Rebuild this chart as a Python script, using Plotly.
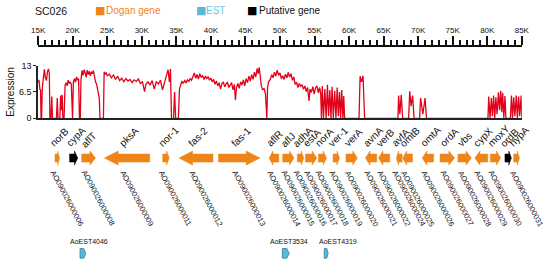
import plotly.graph_objects as go

W, H = 559, 268

# ---------------- data ----------------
scaffold = "SC026"
ruler_ticks = list(range(15, 86, 5))
ruler_labels = [f"{t}K" for t in ruler_ticks]

expr_kb = [15.0, 15.12, 15.25, 15.35, 15.42, 15.5, 15.6, 15.75, 15.9, 16.05, 16.2, 16.35, 16.5, 16.62, 16.7,
           16.85, 16.97, 17.08, 17.65, 17.77, 17.88, 18.15, 18.25, 18.35, 18.48, 18.58, 18.75,
           18.9, 19.05, 19.2, 19.35, 19.5, 19.65, 19.8, 19.88, 19.98,
           20.1, 20.25, 20.4, 20.55, 20.7, 20.85, 20.98, 21.1,
           21.2, 21.35, 21.5, 21.65, 21.8, 21.95, 22.1, 22.25, 22.4, 22.55, 22.7, 22.85, 23.0, 23.15, 23.3,
           23.45, 23.6, 23.75, 23.85, 23.95, 24.2, 24.45,
           24.55, 24.7, 24.85, 25.0, 25.3, 25.6, 25.9, 26.2, 26.5, 26.8, 27.1, 27.4, 27.7, 28.0, 28.3, 28.6,
           28.9, 29.2, 29.5, 29.8, 30.1, 30.4, 30.6, 30.9, 31.2, 31.5, 31.8, 32.1, 32.4, 32.7, 33.0, 33.3,
           33.6, 33.8, 34.0, 34.15, 34.3, 34.35, 34.6, 34.75, 34.9, 35.3,
           35.45, 35.6, 35.8, 36.0, 36.2, 36.4, 36.6, 36.8, 37.0, 37.2, 37.4, 37.6, 37.8, 38.0, 38.2, 38.4,
           38.6, 38.8, 39.0, 39.2, 39.4, 39.6, 39.8, 40.0, 40.2, 40.4, 40.6, 40.8, 41.0, 41.2, 41.4, 41.6,
           41.8, 42.0, 42.2, 42.4, 42.6, 42.8, 43.0, 43.2, 43.4, 43.55, 43.7, 43.9, 44.1, 44.3, 44.5, 44.7,
           44.9, 45.1, 45.3, 45.5, 45.7, 45.9, 46.1, 46.3, 46.5, 46.7, 46.85, 47.0, 47.15, 47.3, 47.5, 47.7,
           47.9, 48.0, 48.1, 48.2, 48.35, 48.6, 48.8, 49.0, 49.2, 49.4, 49.6, 49.8, 50.0, 50.2, 50.4, 50.6,
           50.8, 51.0, 51.2, 51.4, 51.6, 51.8, 52.0, 52.2, 52.4, 52.6, 52.8, 53.0, 53.2, 53.4, 53.6, 53.8,
           54.0, 54.2, 54.35, 54.55, 54.75, 54.95, 55.15, 55.35, 55.55, 55.75, 55.9, 56.0,
           56.13, 56.3, 56.5, 56.68, 56.87, 57.03, 57.21, 57.38, 57.54, 57.72, 57.92, 58.1, 58.28, 58.45,
           58.62, 58.78, 58.94, 59.1, 59.23, 59.35,
           61.44, 61.6, 61.8, 62.02, 62.25,
           67.07, 67.17, 67.35, 67.55, 67.75,
           68.62, 68.78, 68.98, 69.2, 69.41,
           70.21, 70.35, 70.68, 71.0, 71.2,
           80.1, 80.21, 80.4, 80.59, 80.75, 80.92, 81.08, 81.25, 81.42, 81.62, 81.78, 81.95, 82.1, 82.23,
           82.4, 82.56, 82.7, 83.35, 83.5, 83.66, 83.83, 84.0, 84.2, 84.36, 84.54, 84.7, 84.9, 85.0]
expr_val = [8.8, 9.5, 7.2, 7.0, 0, 0, 7.5, 10.5, 12.1, 10.0, 9.3, 11.5, 12.2, 11.0, 0,
            0, 5.4, 0, 0, 5.0, 0, 0, 5.6, 2.0, 5.8, 0, 0,
            8.2, 8.8, 8.0, 9.4, 8.6, 9.0, 8.3, 0, 0,
            9.0, 9.8, 8.9, 10.2, 9.4, 9.8, 0, 0,
            9.5, 11.8, 10.6, 12.0, 11.2, 10.1, 11.9, 10.8, 11.6, 10.5, 11.5, 11.0, 11.8, 10.2, 9.0,
            8.5, 7.0, 6.5, 5.0, 0, 0, 0,
            11.5, 10.8, 11.3, 10.5, 10.9, 10.0, 10.7, 9.6, 10.4, 9.3, 9.9, 9.0, 9.8, 9.2, 9.6, 8.8,
            9.5, 9.1, 9.7, 8.6, 9.0, 6.6, 8.4, 9.0, 8.2, 9.3, 7.2, 9.0, 8.5, 9.4, 7.0, 9.1,
            10.5, 12.0, 9.0, 12.2, 0, 0, 0, 6.5, 0, 0,
            7.2, 8.0, 9.2, 8.6, 9.3, 8.8, 9.5, 9.0, 9.8, 9.4, 10.2, 11.2, 9.9, 10.8, 9.7, 11.0,
            10.1, 10.6, 9.6, 10.4, 9.8, 10.3, 9.4, 9.9, 9.0, 9.6, 8.4, 9.2, 8.0, 8.8, 7.2, 8.6,
            9.0, 7.8, 8.5, 8.9, 7.6, 8.3, 8.8, 7.0, 8.4, 4.5, 7.5, 8.6, 7.4, 9.0, 8.2, 9.5,
            8.0, 9.8, 8.8, 10.4, 9.2, 10.8, 9.6, 11.4, 10.2, 12.3, 11.0, 12.6, 10.8, 8.0, 7.0, 7.4,
            6.0, 0, 0, 7.5, 9.0, 9.6, 10.8, 10.0, 11.4, 10.4, 11.9, 10.6, 11.2, 9.8, 10.5, 9.6,
            10.9, 10.0, 11.3, 10.2, 11.0, 9.4, 10.2, 8.4, 8.9, 7.6, 8.6, 7.9, 8.3, 7.2, 8.0, 6.6,
            7.6, 4.3, 7.2, 6.4, 7.8, 6.0, 7.5, 8.0, 6.3, 7.6, 6.0, 0,
            8.0, 0, 7.2, 0, 8.3, 0.5, 7.0, 0, 7.8, 0, 6.8, 0, 7.6, 0.5,
            6.5, 0, 7.0, 0, 5.5, 0,
            0, 10.4, 9.0, 10.5, 0,
            0, 5.6, 1.0, 5.8, 0,
            0, 6.7, 3.0, 5.6, 0,
            0, 5.0, 1.0, 5.0, 0,
            0, 5.4, 0, 5.0, 0.5, 5.6, 0, 5.2, 1.0, 6.4, 2.0, 6.8, 1.5, 6.3,
            0, 5.5, 0, 0, 5.6, 0, 5.2, 0.5, 5.6, 0, 5.4, 0.5, 5.6, 0]

gene_names = ["norB", "cypA", "aflT", "pksA", "nor-1", "fas-2", "fas-1", "aflR", "aflJ", "adhA",
              "estA", "norA", "ver-1", "verA", "avnA", "verB", "avfA", "omtB", "omtA", "ordA",
              "vbs", "cypX", "moxY", "ordB", "hypA"]
gene_start = [17.44, 19.55, 21.30, 24.58, 33.03, 35.38, 41.10, 48.42, 50.39, 52.51,
              53.69, 55.56, 57.68, 59.55, 62.37, 64.25, 66.83, 67.77, 70.59, 73.17,
              75.75, 78.20, 80.45, 82.56, 83.83]
gene_end = [18.10, 20.73, 23.31, 31.15, 33.97, 40.31, 47.11, 49.83, 52.04, 53.45,
            55.32, 56.73, 58.62, 61.20, 64.01, 65.89, 67.68, 69.18, 72.23, 75.28,
            77.72, 80.07, 81.94, 83.49, 84.68]
gene_strand = [1, 1, 1, -1, 1, -1, 1, -1, 1, 1,
               1, 1, 1, 1, -1, -1, -1, -1, -1, 1,
               1, -1, 1, 1, 1]
gene_kind = ["dogan", "putative", "dogan", "dogan", "dogan", "dogan", "dogan", "dogan", "dogan", "dogan",
             "dogan", "dogan", "dogan", "dogan", "dogan", "dogan", "dogan", "dogan", "dogan", "dogan",
             "dogan", "dogan", "dogan", "putative", "dogan"]
gene_locus = ["AO090026000006", "", "AO090026000008", "AO090026000009", "AO090026000011",
              "AO090026000012", "AO090026000013", "AO090026000014", "AO090026000015", "AO090026000016",
              "AO090026000017", "AO090026000018", "AO090026000019", "AO090026000020", "AO090026000021",
              "AO090026000022", "AO090026000024", "AO090026000025", "AO090026000026", "AO090026000027",
              "AO090026000028", "AO090026000029", "AO090026000030", "", "AO090026000031"]

est_names = ["AoEST4046", "AoEST3534", "AoEST4319"]
est_start = [21.06, 50.35, 56.41]
est_end = [21.90, 51.34, 56.97]
est_label_kb = [22.32, 51.34, 58.45]

legend_names = ["Dogan gene", "EST", "Putative gene"]

# ---------------- style ----------------
ORANGE = "#EF8519"
BLUE = "#5CB8D6"
BLACK = "#000000"
RED = "#E2001A"
FONT = "Arial, Liberation Sans, sans-serif"

X_DOM = [32 / W, 529 / W]


def py(p):
    """pixel row -> paper fraction"""
    return 1 - p / H


def arrow(s, e, strand, body=0.3, head=0.52, hmax=2.0, frac=0.4):
    ln = e - s
    h = min(hmax, frac * ln)
    if strand >= 0:
        xs = [s, e - h, e - h, e, e - h, e - h, s, s]
    else:
        xs = [e, s + h, s + h, s, s + h, s + h, e, e]
    ys = [-body, -body, -head, 0, head, body, body, -body]
    return xs, ys


fig = go.Figure()

# expression trace
fig.add_trace(go.Scatter(x=expr_kb, y=expr_val, mode="lines", xaxis="x", yaxis="y",
                         line=dict(color=RED, width=1.3), hoverinfo="skip"))

# ruler subplot holder (no visible marks)
fig.add_trace(go.Scatter(x=[ruler_ticks[0], ruler_ticks[-1]], y=[0.5, 0.5], mode="none",
                         xaxis="x2", yaxis="y2", hoverinfo="skip"))

# gene arrows
for kind, col in [("dogan", ORANGE), ("putative", BLACK)]:
    gx, gy = [], []
    for s, e, st, k in zip(gene_start, gene_end, gene_strand, gene_kind):
        if k != kind:
            continue
        ax, ay = arrow(s, e, st)
        gx += ax + [None]
        gy += ay + [None]
    fig.add_trace(go.Scatter(x=gx, y=gy, mode="lines", fill="toself", fillcolor=col,
                             line=dict(color=col, width=0.5), xaxis="x", yaxis="y3",
                             hoverinfo="skip"))

# EST marks
ex, ey = [], []
for s, e in zip(est_start, est_end):
    ax, ay = arrow(s, e, 1, body=0.5, head=0.5, hmax=0.4, frac=0.35)
    ex += ax + [None]
    ey += ay + [None]
fig.add_trace(go.Scatter(x=ex, y=ey, mode="lines", fill="toself", fillcolor=BLUE,
                         line=dict(color="#2E7F9E", width=0.8), xaxis="x", yaxis="y4",
                         hoverinfo="skip"))

ann = []
# gene labels (above)
for name, s, e in zip(gene_names, gene_start, gene_end):
    ann.append(dict(x=(s + e) / 2, y=py(151), xref="x", yref="paper", text=name,
                    showarrow=False, textangle=-45, xanchor="left", yanchor="bottom",
                    xshift=-11, font=dict(size=10, color="#111", family=FONT), borderpad=0))
# locus labels (below)
for loc, s, e in zip(gene_locus, gene_start, gene_end):
    if not loc:
        continue
    ann.append(dict(x=(s + e) / 2, y=py(169), xref="x", yref="paper", text=loc,
                    showarrow=False, textangle=62, xanchor="left", yanchor="top",
                    xshift=-10, font=dict(size=7.6, color="#111", family=FONT), borderpad=0))
# EST labels
for name, xk in zip(est_names, est_label_kb):
    ann.append(dict(x=xk, y=py(246), xref="x", yref="paper", text=name, showarrow=False,
                    xanchor="center", yanchor="middle", font=dict(size=7, color="#111", family=FONT)))

# header legend
ly = py(6)
ann.append(dict(x=27 / W, y=ly, xref="paper", yref="paper", text=scaffold, showarrow=False,
                xanchor="left", yanchor="middle", font=dict(size=10.5, color="#111", family=FONT)))
leg_cols = [ORANGE, BLUE, BLACK]
leg_txt_cols = [ORANGE, "#6CC4E0", "#111"]
sq_x = [88, 192, 245]
tx_x = [100, 202, 257]
for name, c, tc, sx, tx in zip(legend_names, leg_cols, leg_txt_cols, sq_x, tx_x):
    ann.append(dict(x=sx / W, y=ly, xref="paper", yref="paper", text="■", showarrow=False,
                    xanchor="left", yanchor="middle", font=dict(size=11, color=c, family="DejaVu Sans")))
    ann.append(dict(x=tx / W, y=ly, xref="paper", yref="paper", text=name, showarrow=False,
                    xanchor="left", yanchor="middle", font=dict(size=10, color=tc, family=FONT)))

fig.update_layout(
    width=W, height=H, margin=dict(l=0, r=0, t=0, b=0),
    paper_bgcolor="white", plot_bgcolor="white", showlegend=False,
    font=dict(family=FONT, color="#111"),
    xaxis=dict(domain=X_DOM, range=[15, 85], anchor="y", showline=True, linecolor="#222",
               linewidth=1.5, ticks="", showticklabels=False, showgrid=False, zeroline=False),
    yaxis=dict(domain=[py(117.7), py(63)], range=[0, 13], anchor="x", showline=True,
               linecolor="#222", linewidth=1.5, ticks="outside", ticklen=3, tickwidth=1.2,
               tickcolor="#222", tickvals=[0, 6.5, 13], ticktext=["0", "6.5", "13"],
               tickfont=dict(size=9), showgrid=False, zeroline=False,
               title=dict(text="Expression", font=dict(size=10), standoff=3)),
    xaxis2=dict(domain=X_DOM, range=[15, 85], anchor="y2", side="top", showline=True,
                linecolor="#111", linewidth=2, ticks="outside", ticklen=9, tickwidth=2,
                tickcolor="#111", tickvals=ruler_ticks, ticktext=ruler_labels,
                tickfont=dict(size=8), showgrid=False, zeroline=False,
                minor=dict(ticks="outside", dtick=1, tick0=15, ticklen=5, tickwidth=2,
                           tickcolor="#111", showgrid=False)),
    yaxis2=dict(domain=[py(50), py(44)], range=[0, 1], anchor="x2", visible=False),
    yaxis3=dict(domain=[py(173), py(145)], range=[-1, 1], anchor="x", visible=False),
    yaxis4=dict(domain=[py(268), py(248)], range=[-1, 1], anchor="x", visible=False),
    annotations=ann,
)

fig.write_html("out.html", config={"displayModeBar": False},
               post_script="document.body.style.margin='0';document.body.style.padding='0';")
